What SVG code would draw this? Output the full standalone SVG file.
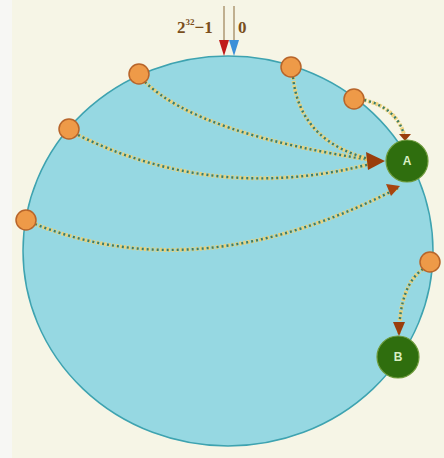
<svg xmlns="http://www.w3.org/2000/svg" width="444" height="458" viewBox="0 0 444 458">
<defs>
<style>
.halo{fill:none;stroke:#efd274;stroke-width:4;stroke-dasharray:2.6 1.4;opacity:0.9}
.dots{fill:none;stroke:#3d7c66;stroke-width:2.4;stroke-dasharray:2 3}
.pt{fill:#ee9a48;stroke:#b8652a;stroke-width:1.5}
.srv{fill:#2f6e0e;stroke:#6d9a3a;stroke-width:1.2}
.lbl{font-family:"Liberation Sans",Arial,sans-serif;font-weight:bold;font-size:12px;fill:#d8efc4;text-anchor:middle}
.num{font-family:"Liberation Serif","Times New Roman",serif;font-weight:bold;fill:#7a4f1c}
</style>
</defs>
<rect x="0" y="0" width="444" height="458" fill="#f6f5e6"/>
<rect x="0" y="0" width="12" height="458" fill="#f7f7f4"/>
<ellipse cx="228" cy="251" rx="205" ry="195" fill="#96d8e2" stroke="#3ea3b0" stroke-width="1.5"/>
<g id="top-marks">
<line x1="224" y1="6" x2="224" y2="44" stroke="#8a6a3a" stroke-width="1"/>
<line x1="234" y1="6" x2="234" y2="44" stroke="#8a6a3a" stroke-width="1"/>
<path d="M219,40 L229,40 L224,56 z" fill="#c01a18"/>
<path d="M229,40 L239,40 L234,56 z" fill="#3b8fd8"/>
<text class="num" x="177" y="33" font-size="17">2<tspan font-size="9" dy="-8">32</tspan><tspan dy="8">−1</tspan></text>
<text class="num" x="238" y="33" font-size="17">0</text>
</g>
<g id="connectors">
<path class="halo" d="M145,82 Q200,135 378,161"/>
<path class="dots" d="M145,82 Q200,135 378,161"/>
<path class="halo" d="M293,77 Q300,145 378,161"/>
<path class="dots" d="M293,77 Q300,145 378,161"/>
<path class="halo" d="M78,135 Q220,205 378,162"/>
<path class="dots" d="M78,135 Q220,205 378,162"/>
<path class="halo" d="M35,224 Q200,290 398,188"/>
<path class="dots" d="M35,224 Q200,290 398,188"/>
<path class="halo" d="M364,100 Q398,108 405,138"/>
<path class="dots" d="M364,100 Q398,108 405,138"/>
<path class="halo" d="M423,269 Q400,285 399,334"/>
<path class="dots" d="M423,269 Q400,285 399,334"/>
<path d="M366,152 L385,161 L368,170 z" fill="#9a3d0c"/>
<path d="M386,184 L400,186 L391,196 z" fill="#a8450e"/>
<path d="M399,134 L411,134 L405,141 z" fill="#9a3d0c"/>
<path d="M393,322 L405,322 L399,336 z" fill="#9a3d0c"/>
</g>
<g id="p1"><circle class="pt" cx="139" cy="74" r="10"/></g>
<g id="p2"><circle class="pt" cx="291" cy="67" r="10"/></g>
<g id="p3"><circle class="pt" cx="354" cy="99" r="10"/></g>
<g id="p4"><circle class="pt" cx="69" cy="129" r="10"/></g>
<g id="p5"><circle class="pt" cx="26" cy="220" r="10"/></g>
<g id="p6"><circle class="pt" cx="430" cy="262" r="10"/></g>
<g id="A"><circle class="srv" cx="407" cy="161" r="21"/><text class="lbl" x="407" y="165">A</text></g>
<g id="B"><circle class="srv" cx="398" cy="357" r="21"/><text class="lbl" x="398" y="361">B</text></g>
</svg>
